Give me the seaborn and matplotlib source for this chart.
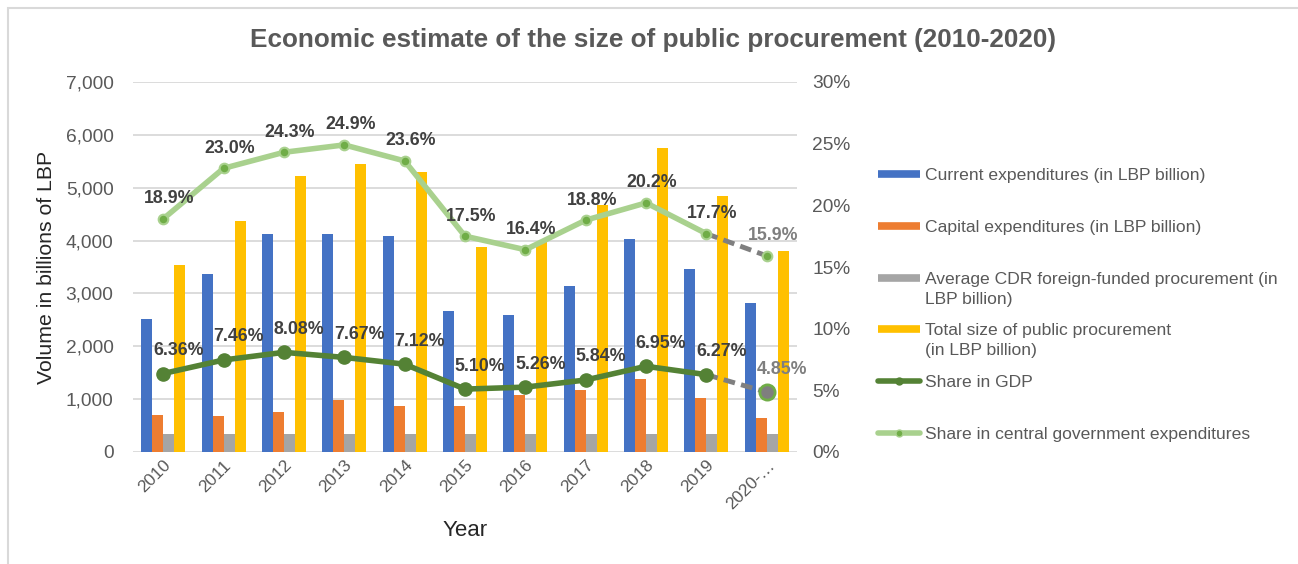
#!/usr/bin/env python3
"""Economic estimate of the size of public procurement (2010-2020)."""

import matplotlib

matplotlib.use("Agg")
import matplotlib.pyplot as plt
import matplotlib.ticker as mticker
from matplotlib.lines import Line2D
from matplotlib.patches import Rectangle
import pandas as pd
import seaborn as sns

years = ["2010", "2011", "2012", "2013", "2014", "2015", "2016", "2017", "2018", "2019", "2020-…"]
current_exp = [2520, 3370, 4125, 4125, 4085, 2670, 2590, 3150, 4030, 3460, 2825]
capital_exp = [695, 675, 757, 978, 870, 870, 1078, 1173, 1375, 1015, 637]
cdr_foreign = [340, 340, 340, 340, 340, 340, 340, 340, 340, 340, 340]
total_size = [3537, 4376, 5215, 5448, 5291, 3878, 3980, 4673, 5751, 4837, 3797]
share_gdp = [6.36, 7.46, 8.08, 7.67, 7.12, 5.10, 5.26, 5.84, 6.95, 6.27, 4.85]
share_cge = [18.9, 23.0, 24.3, 24.9, 23.6, 17.5, 16.4, 18.8, 20.2, 17.7, 15.9]

series_names = [
    "Current expenditures (in LBP billion)",
    "Capital expenditures (in LBP billion)",
    "Average CDR foreign-funded procurement (in\nLBP billion)",
    "Total size of public procurement\n(in LBP billion)",
]
line_names = ["Share in GDP", "Share in central government expenditures"]
bar_colors = ["#4472C4", "#ED7D31", "#A5A5A5", "#FFC000"]
GDP_COLOR = "#548235"
CGE_COLOR = "#A9D18E"
MARK_COLOR = "#70AD47"
DASH_COLOR = "#7F7F7F"
GREY_TXT = "#595959"
LABEL_TXT = "#404040"

sns.set_style("white")
plt.rcParams["font.family"] = ["Liberation Sans", "DejaVu Sans"]

df = pd.DataFrame(
    {
        "year": years * 4,
        "series": sum([[n] * len(years) for n in series_names], []),
        "value": current_exp + capital_exp + cdr_foreign + total_size,
    }
)

W, H = 1298, 564
fig = plt.figure(figsize=(W / 100, H / 100), dpi=100)
ax = fig.add_axes([133 / W, 1 - 452 / H, (797 - 133) / W, (452 - 82) / H])

sns.barplot(
    data=df, x="year", y="value", hue="series", hue_order=series_names,
    palette=bar_colors, width=0.73, gap=0, saturation=1, ax=ax, legend=False,
    errorbar=None, linewidth=0, zorder=2,
)

ax.set_ylim(0, 7000)
ax.set_yticks(range(0, 7001, 1000))
ax.yaxis.set_major_formatter(mticker.FuncFormatter(lambda v, p: f"{v:,.0f}"))
ax.grid(axis="y", color="#D9D9D9", lw=1.3, zorder=0)
ax.set_axisbelow(True)
for s in ax.spines.values():
    s.set_visible(False)
ax.tick_params(axis="both", length=0, labelcolor=GREY_TXT)
ax.tick_params(axis="y", labelsize=13.8, pad=14)
ax.tick_params(axis="x", labelsize=12.5, pad=4)
plt.setp(ax.get_xticklabels(), rotation=45, ha="right", rotation_mode="anchor")
ax.set_xlabel("Year", fontsize=16, labelpad=6)
ax.set_ylabel("Volume in billions of LBP", fontsize=15.3, labelpad=7)
ax.set_xlim(-0.5, len(years) - 0.5)

ax2 = ax.twinx()
ax2.set_ylim(0, 30)
ax2.set_yticks(range(0, 31, 5))
ax2.yaxis.set_major_formatter(mticker.FuncFormatter(lambda v, p: f"{v:.0f}%"))
ax2.tick_params(axis="y", length=0, labelsize=13.8, labelcolor=GREY_TXT, pad=11)
for s in ax2.spines.values():
    s.set_visible(False)

xs = list(range(len(years)))
n = len(years) - 1

for vals, col in [(share_cge, CGE_COLOR), (share_gdp, GDP_COLOR)]:
    sns.lineplot(x=xs[:n], y=vals[:n], color=col, lw=4, ax=ax2, zorder=4)
    ax2.plot(xs[n - 1:], vals[n - 1:], color=DASH_COLOR, lw=3.5, ls=(0, (2.4, 1.3)), zorder=4)

ax2.scatter(xs, share_cge, s=48, color=MARK_COLOR, edgecolor=CGE_COLOR, linewidth=1.5, zorder=5)
ax2.scatter(xs[:n], share_gdp[:n], s=90, color=GDP_COLOR, edgecolor=GDP_COLOR, zorder=5)
ax2.scatter(xs[n:], share_gdp[n:], s=120, color=DASH_COLOR, edgecolor=MARK_COLOR, linewidth=2, zorder=5)

for i, v in enumerate(share_cge):
    c = DASH_COLOR if i == n else LABEL_TXT
    ax2.annotate(f"{v:.1f}%", (i, v), xytext=(6, 20), textcoords="offset pixels",
                 ha="center", va="center", fontsize=12.8, fontweight="bold", color=c, zorder=6)
for i, v in enumerate(share_gdp):
    c = DASH_COLOR if i == n else LABEL_TXT
    ax2.annotate(f"{v:.2f}%", (i, v), xytext=(15, 23), textcoords="offset pixels",
                 ha="center", va="center", fontsize=12.8, fontweight="bold", color=c, zorder=6)

fig.text(653 / W, 1 - 40 / H, "Economic estimate of the size of public procurement (2010-2020)",
         ha="center", va="center", fontsize=18.8, fontweight="bold", color=GREY_TXT)

# legend drawn entry by entry, evenly spaced like the original
hx0, hx1, tx = 878 / W, 920 / W, 925 / W
legend_names = series_names + line_names
for k, name in enumerate(legend_names):
    ypx = 174 + k * 51.8
    y = 1 - ypx / H
    if k < 4:
        fig.add_artist(Line2D([hx0, hx1], [y, y], transform=fig.transFigure,
                              color=bar_colors[k], lw=5.5, solid_capstyle="butt"))
    else:
        col = GDP_COLOR if k == 4 else CGE_COLOR
        fig.add_artist(Line2D([hx0, (hx0 + hx1) / 2, hx1], [y, y, y], transform=fig.transFigure,
                              color=col, lw=4, marker="o", ms=5, markevery=[1],
                              mfc=GDP_COLOR if k == 4 else MARK_COLOR, mec=col))
    for j, line in enumerate(name.split("\n")):
        fig.text(tx, 1 - (ypx + 20 * j) / H, line, ha="left", va="center_baseline",
                 fontsize=12.6, color=GREY_TXT)

fig.patches.append(Rectangle((8 / W, -0.2), 1.2, 1.2 - 8 / H,
                             transform=fig.transFigure, fill=False,
                             edgecolor="#D9D9D9", lw=1.5, zorder=0))

fig.savefig("out.png", dpi=100)
